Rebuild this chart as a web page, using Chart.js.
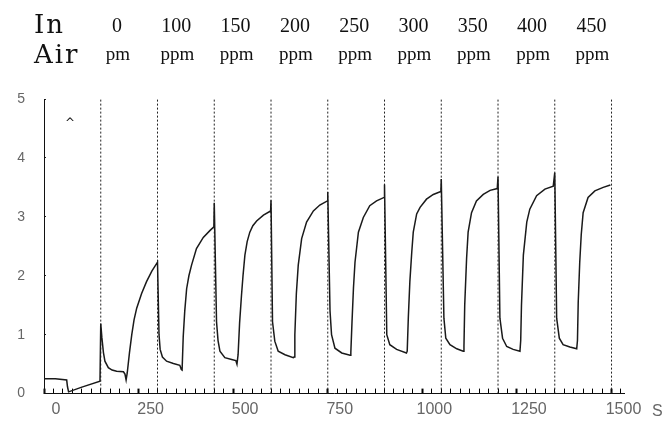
<!DOCTYPE html>
<html>
<head>
<meta charset="utf-8">
<script src="https://cdn.jsdelivr.net/npm/chart.js@4.4.1/dist/chart.umd.min.js"></script>
<style>
  html, body { margin: 0; padding: 0; background: #fff; }
</style>
</head>
<body>
<canvas id="sensorChart" width="671" height="423"></canvas>
<script>
// sensor response: time (s) and signal
const timeS = [
  0, 30, 60, 62, 65, 100, 148,
  150, 153, 157, 161, 170, 180, 192, 210, 214, 217, 220, 226, 232, 238, 245, 258, 271, 285, 300,
  304, 307, 313, 324, 342, 359, 363, 365, 368, 372, 377, 383, 390, 403, 421, 439, 449,
  450, 456, 460, 465, 478, 496, 507, 510, 513, 517, 522, 526, 531, 537, 544, 552, 562, 580, 599,
  600, 604, 610, 619, 637, 659, 661, 663, 667, 672, 681, 694, 712, 729, 749,
  750, 756, 760, 769, 787, 809, 811, 814, 818, 822, 831, 844, 861, 879, 899,
  900, 906, 914, 932, 958, 960, 963, 967, 972, 976, 985, 994, 1011, 1029, 1049,
  1050, 1057, 1062, 1073, 1091, 1108, 1110, 1112, 1117, 1121, 1130, 1143, 1161, 1179, 1198,
  1200, 1205, 1212, 1223, 1240, 1258, 1260, 1262, 1267, 1276, 1284, 1302, 1324, 1346,
  1350, 1355, 1362, 1372, 1390, 1408, 1410, 1412, 1416, 1420, 1425, 1438, 1456, 1478, 1497
];
const signal = [
  0.25, 0.25, 0.23, 0.12, 0.03, 0.11, 0.21,
  1.19, 0.95, 0.70, 0.55, 0.44, 0.40, 0.38, 0.37, 0.33, 0.23, 0.35, 0.70, 1.00, 1.25, 1.45, 1.70, 1.90, 2.08, 2.23,
  1.00, 0.75, 0.62, 0.55, 0.51, 0.48, 0.41, 0.40, 0.97, 1.40, 1.78, 2.00, 2.18, 2.46, 2.65, 2.77, 2.83,
  3.24, 1.22, 0.90, 0.72, 0.61, 0.58, 0.56, 0.50, 0.66, 1.20, 1.67, 2.00, 2.35, 2.58, 2.74, 2.85, 2.93, 3.03, 3.10,
  3.28, 1.22, 0.89, 0.72, 0.66, 0.61, 0.62, 1.00, 1.70, 2.18, 2.63, 2.91, 3.10, 3.20, 3.27,
  3.42, 1.40, 1.00, 0.77, 0.69, 0.65, 0.70, 1.20, 1.80, 2.23, 2.74, 2.99, 3.19, 3.27, 3.33,
  3.55, 1.00, 0.83, 0.75, 0.69, 0.72, 1.30, 1.90, 2.40, 2.74, 3.05, 3.16, 3.30, 3.38, 3.43,
  3.64, 1.28, 0.94, 0.83, 0.76, 0.72, 0.80, 1.50, 2.30, 2.74, 3.07, 3.27, 3.38, 3.45, 3.48,
  3.68, 1.28, 0.94, 0.80, 0.75, 0.72, 0.90, 1.50, 2.35, 2.91, 3.13, 3.36, 3.47, 3.52,
  3.75, 1.28, 0.94, 0.83, 0.79, 0.76, 0.90, 1.55, 2.23, 2.70, 3.07, 3.33, 3.44, 3.50, 3.54
];
// gas switched on/off every 150 s
const switchTimes = [150, 300, 450, 600, 750, 900, 1050, 1200, 1350, 1500];
const concLabels = ['0', '100', '150', '200', '250', '300', '350', '400', '450'];
const unitLabels = ['pm', 'ppm', 'ppm', 'ppm', 'ppm', 'ppm', 'ppm', 'ppm', 'ppm'];

const datasets = [{
  data: timeS.map((t, i) => ({ x: t, y: signal[i] })),
  borderColor: '#1a1a1a',
  borderWidth: 1.5,
  pointRadius: 0,
  tension: 0
}];
switchTimes.forEach(t => {
  datasets.push({
    data: [{ x: t, y: 0 }, { x: t, y: 5 }],
    borderColor: '#222',
    borderWidth: 1,
    borderDash: [2, 2],
    pointRadius: 0
  });
});

// header text, "S" unit and the little caret mark
const headerPlugin = {
  id: 'header',
  afterDraw(chart) {
    const ctx = chart.ctx;
    ctx.save();
    ctx.fillStyle = '#111';
    ctx.textBaseline = 'alphabetic';
    ctx.textAlign = 'left';
    ctx.font = '26px "DejaVu Serif"';
    ctx.letterSpacing = '2px';
    ctx.fillText('In', 34, 33);
    ctx.fillText('Air', 34, 63);
    ctx.letterSpacing = '0px';
    ctx.textAlign = 'center';
    concLabels.forEach((lab, i) => {
      const cx = 117 + i * 59.3;
      ctx.font = '20px "Liberation Serif"';
      ctx.fillText(lab, cx, 32);
      ctx.font = '19px "Liberation Serif"';
      ctx.fillText(unitLabels[i], cx + 1, 60);
    });
    ctx.font = '12px "DejaVu Sans"';
    ctx.fillText('^', 70, 127);
    ctx.fillStyle = '#666';
    ctx.textAlign = 'left';
    ctx.textBaseline = 'middle';
    ctx.font = '16px "Liberation Sans"';
    ctx.fillText('S', 652, 412);
    ctx.restore();
  }
};

new Chart(document.getElementById('sensorChart'), {
  type: 'line',
  data: { datasets: datasets },
  options: {
    responsive: false,
    animation: false,
    layout: { padding: { top: 99, right: 47, left: 0, bottom: 0 } },
    plugins: { legend: { display: false }, tooltip: { enabled: false } },
    scales: {
      x: {
        type: 'linear',
        min: 0,
        max: 1533,
        afterFit: s => { s.height = 27; },
        border: { color: '#111', width: 1 },
        grid: {
          drawOnChartArea: false,
          tickLength: -5,
          tickColor: '#000',
          tickWidth: c => (c.tick && c.tick.value % 250 === 0 ? 2 : 1)
        },
        ticks: {
          stepSize: 25,
          includeBounds: false,
          autoSkip: false,
          maxRotation: 0,
          padding: 11,
          labelOffset: 12,
          color: '#666',
          font: { family: 'Liberation Sans', size: 16 },
          callback: v => (v % 250 === 0 ? v : '')
        }
      },
      y: {
        min: 0,
        max: 5,
        afterFit: s => { s.width = 44; },
        border: { color: '#111', width: 1 },
        grid: { drawOnChartArea: false, tickLength: -2, tickColor: '#222' },
        ticks: {
          stepSize: 1,
          padding: 21,
          color: '#666',
          font: { family: 'Liberation Sans', size: 14 }
        }
      }
    }
  },
  plugins: [headerPlugin]
});
</script>
</body>
</html>
